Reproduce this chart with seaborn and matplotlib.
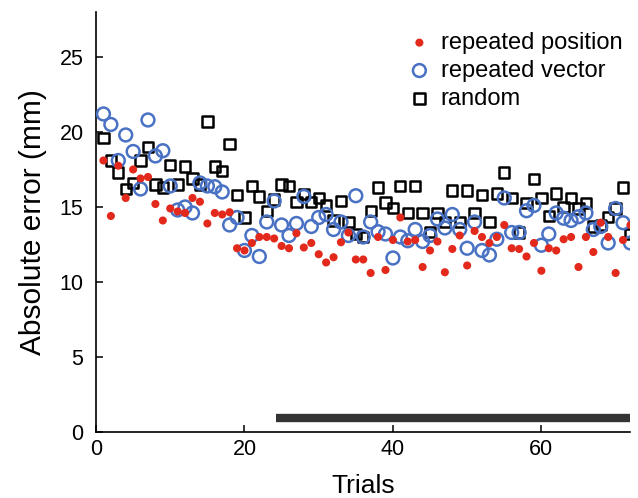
import numpy as np
import pandas as pd
import matplotlib
matplotlib.use("Agg")
import matplotlib.pyplot as plt
import seaborn as sns

trials = list(range(1, 73))

repeated_position = [
    18.1, 14.4, 17.75, 15.6, 17.5, 16.9, 17.0, 15.2, 14.1, 14.9,
    14.7, 14.6, 15.6, 15.35, 13.9, 14.6, 14.5, 14.65, 12.25, 12.1,
    12.6, 13.0, 13.0, 12.9, 12.4, 12.25, 13.25, 12.3, 12.6, 11.85,
    11.3, 11.65, 12.65, 13.3, 11.5, 11.5, 10.6, 13.0, 10.8, 12.8,
    14.3, 12.7, 12.8, 11.0, 12.1, 12.7, 10.65, 12.2, 13.1, 11.1,
    13.4, 13.0, 12.6, 13.0, 13.8, 12.25, 12.2, 11.7, 12.6, 10.75,
    12.25, 12.1, 12.85, 13.0, 11.0, 13.0, 12.0, 13.95, 13.0, 10.6,
    12.8, 13.8]

repeated_vector = [
    21.2, 20.5, 18.1, 19.8, 18.7, 16.2, 20.8, 18.4, 18.75, 16.4,
    14.8, 15.0, 14.6, 16.6, 16.4, 16.35, 16.0, 13.8, 14.3, 12.1,
    13.1, 11.7, 14.0, 15.4, 13.8, 13.1, 13.9, 15.7, 13.7, 14.3,
    14.5, 13.5, 14.0, 13.1, 15.75, 13.0, 14.0, 13.35, 13.2, 11.6,
    13.0, 12.75, 13.5, 12.7, 13.1, 14.2, 13.6, 14.5, 13.5, 12.25,
    14.0, 12.1, 11.8, 12.85, 15.6, 13.3, 13.3, 14.75, 15.1, 12.45,
    13.2, 14.6, 14.25, 14.1, 14.35, 14.6, 13.5, 13.7, 12.6, 14.9,
    13.95, 12.6]

random_trials = [
    19.6, 18.1, 17.3, 16.2, 16.6, 18.1, 19.0, 16.5, 16.3, 17.8,
    16.5, 17.7, 16.9, 16.5, 20.7, 17.7, 17.4, 19.2, 15.8, 14.3,
    16.4, 15.7, 14.75, 15.5, 16.5, 16.4, 15.35, 15.85, 15.35, 15.6,
    15.1, 14.1, 15.4, 14.0, 13.2, 13.0, 14.75, 16.3, 15.3, 14.95,
    16.4, 14.6, 16.4, 14.6, 13.35, 14.6, 14.0, 16.1, 14.0, 16.1,
    14.6, 15.8, 14.0, 15.9, 17.3, 15.6, 13.3, 15.25, 16.85, 15.6,
    14.4, 15.9, 15.0, 15.6, 14.9, 15.25, 13.7, 13.8, 14.35, 14.9,
    16.3, 13.2]

bar_start, bar_end, bar_level = 24.3, 71.9, 0.95

x_ticks = [0, 20, 40, 60]
y_ticks = [0, 5, 10, 15, 20, 25]

sns.set_theme(style="white")
plt.rcParams['font.family'] = ['Liberation Sans', 'DejaVu Sans']
for k in ["text.color", "axes.labelcolor", "xtick.color", "ytick.color",
          "axes.edgecolor"]:
    plt.rcParams[k] = "black"

df = pd.DataFrame({
    "trial": trials,
    "repeated position": repeated_position,
    "repeated vector": repeated_vector,
    "random": random_trials,
})

fig = plt.figure(figsize=(6.38, 4.98), dpi=100)
ax = fig.add_axes([0.1505, 0.1325, 0.8365, 0.8435])

sns.scatterplot(data=df, x="trial", y="random", ax=ax, marker="s", s=55,
                facecolor="none", edgecolor="black", linewidth=1.8,
                label="random", zorder=3)
sns.scatterplot(data=df, x="trial", y="repeated vector", ax=ax, marker="o", s=85,
                facecolor="none", edgecolor="#4a72c4", linewidth=1.8,
                label="repeated vector", zorder=4)
sns.scatterplot(data=df, x="trial", y="repeated position", ax=ax, marker="o", s=34,
                color="#e2291c", edgecolor="none", linewidth=0,
                label="repeated position", zorder=5)

ax.plot([bar_start, bar_end], [bar_level, bar_level], color="#333333",
        linewidth=6, solid_capstyle="butt", zorder=2)

ax.set_xlim(0, 71.9)
ax.set_ylim(0, 28)
ax.set_xticks(x_ticks)
ax.set_yticks(y_ticks)
ax.set_xlabel("Trials", fontsize=19, labelpad=10)
ax.set_ylabel("Absolute error (mm)", fontsize=21.5, labelpad=9)
ax.tick_params(axis="both", direction="in", length=5, width=1.1,
               labelsize=15.5, color="black", labelcolor="black",
               bottom=True, left=True)
ax.tick_params(axis="y", pad=9)
ax.tick_params(axis="x", pad=5)
for s in ["top", "right"]:
    ax.spines[s].set_visible(False)
for s in ["left", "bottom"]:
    ax.spines[s].set_color("black")
    ax.spines[s].set_linewidth(1.2)

handles, labels = ax.get_legend_handles_labels()
order = [labels.index("repeated position"), labels.index("repeated vector"),
         labels.index("random")]
leg = ax.legend([handles[i] for i in order], [labels[i] for i in order],
                loc="upper right", bbox_to_anchor=(1.017, 0.992), frameon=False,
                fontsize=17, handlelength=1.0,
                handletextpad=0.4, labelspacing=0.25, borderaxespad=0.3)

fig.savefig("out.png", dpi=100)
